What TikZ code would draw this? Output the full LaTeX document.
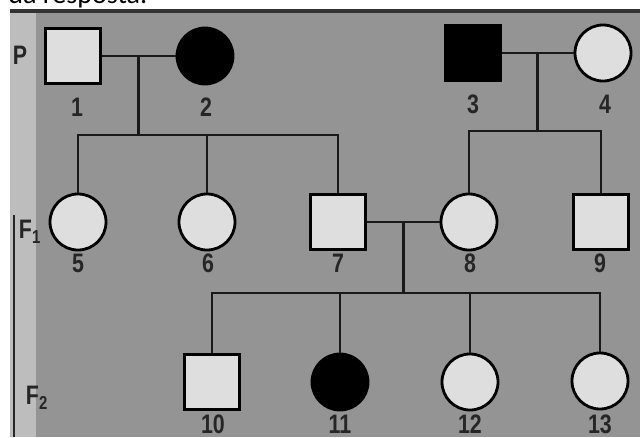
\documentclass[tikz,border=0pt]{standalone}
\usepackage{fontspec}
\setmainfont{Liberation Sans}
\newfontfamily\numfont[FakeStretch=0.8]{Liberation Sans}
\newfontfamily\capfont{Carlito}
\usetikzlibrary{calc,positioning}

\tikzset{
  person/.style={draw=black, line width=2pt, fill=black!13, inner sep=0pt},
  male/.style={person, rectangle, minimum size=1.38cm},
  female/.style={person, circle, minimum size=1.4cm},
  affected/.style={fill=black},
  link/.style={line width=2pt, black!90},
  num/.style={font=\numfont\bfseries\fontsize{19}{19}\selectfont, inner sep=0pt, text=black!85},
  gen/.style={font=\numfont\bfseries\fontsize{19}{19}\selectfont, inner sep=0pt, text=black!85},
}

\begin{document}
\begin{tikzpicture}[x=0.025cm, y=-0.025cm]
        % --- 1. Frame ---
        \useasboundingbox (0,0) rectangle (640,437);
        \clip (0,0) rectangle (640,437);
        \fill[white] (0,0) rectangle (640,437);
        \fill[black!42] (10,10) rectangle (640,437);
        \fill[black!26] (10,12) rectangle (36,437);
        \draw[line width=2.5pt, black!80] (10,11) -- (640,11);
        \draw[line width=1pt, black!85] (14,215) -- (14,437);
        \node[anchor=base west, font=\capfont\fontsize{20}{20}\selectfont, inner sep=0pt] (head) at (8,3) {da resposta.};

        % --- 2. Generation P ---
        \node[gen] (gP) at (20,55) {P};
        \node[male] (p1) at (73,56) {};
        \node[female, affected] (p2) at (205,56) {};
        \node[male, affected] (p3) at (473,53) {};
        \node[female] (p4) at (603,53) {};
        \node[num] (l1) at (77,107) {1};
        \node[num] (l2) at (206,107) {2};
        \node[num] (l3) at (473,104) {3};
        \node[num] (l4) at (605,104) {4};

        % --- 3. Generation F1 ---
        \node[gen] (gF1) at (30,232) {F\textsubscript{1}};
        \node[female] (c5) at (78,222) {};
        \node[female] (c6) at (207,222) {};
        \node[male] (c7) at (338,222) {};
        \node[female] (c8) at (469,222) {};
        \node[male] (c9) at (601,222) {};
        \node[num] (l5) at (78,263) {5};
        \node[num] (l6) at (208,263) {6};
        \node[num] (l7) at (338,263) {7};
        \node[num] (l8) at (470,263) {8};
        \node[num] (l9) at (600,263) {9};

        % --- 4. Generation F2 ---
        \node[gen] (gF2) at (37,398) {F\textsubscript{2}};
        \node[male] (c10) at (212,382) {};
        \node[female, affected] (c11) at (340,382) {};
        \node[female] (c12) at (470,382) {};
        \node[female] (c13) at (600,381) {};
        \node[num] (l10) at (213,424) {10};
        \node[num] (l11) at (340,424) {11};
        \node[num] (l12) at (470,424) {12};
        \node[num] (l13) at (600,424) {13};

        % --- 5. Matings and descent ---
        \draw[link] (p1.east) -- (p2.west);
        \coordinate (m12) at ($(p1.east)!0.5!(p2.west)$);
        \draw[link] (m12) -- ++(0,79) coordinate (s12);
        \draw[link] (c5.north) |- (s12) -| (c7.north);
        \draw[link] (c6.north) -- (c6.north |- s12);

        \draw[link] (p3.east) -- (p4.west);
        \coordinate (m34) at ($(p3.east)!0.5!(p4.west)$);
        \draw[link] (m34) -- ++(0,78) coordinate (s34);
        \draw[link] (c8.north) |- (s34) -| (c9.north);

        \draw[link] (c7.east) -- (c8.west);
        \coordinate (m78) at ($(c7.east)!0.5!(c8.west)$);
        \draw[link] (m78) -- ++(0,71) coordinate (s78);
        \draw[link] (c10.north) |- (s78) -| (c13.north);
        \draw[link] (c11.north) -- (c11.north |- s78);
        \draw[link] (c12.north) -- (c12.north |- s78);
    \end{tikzpicture}
\end{document}
